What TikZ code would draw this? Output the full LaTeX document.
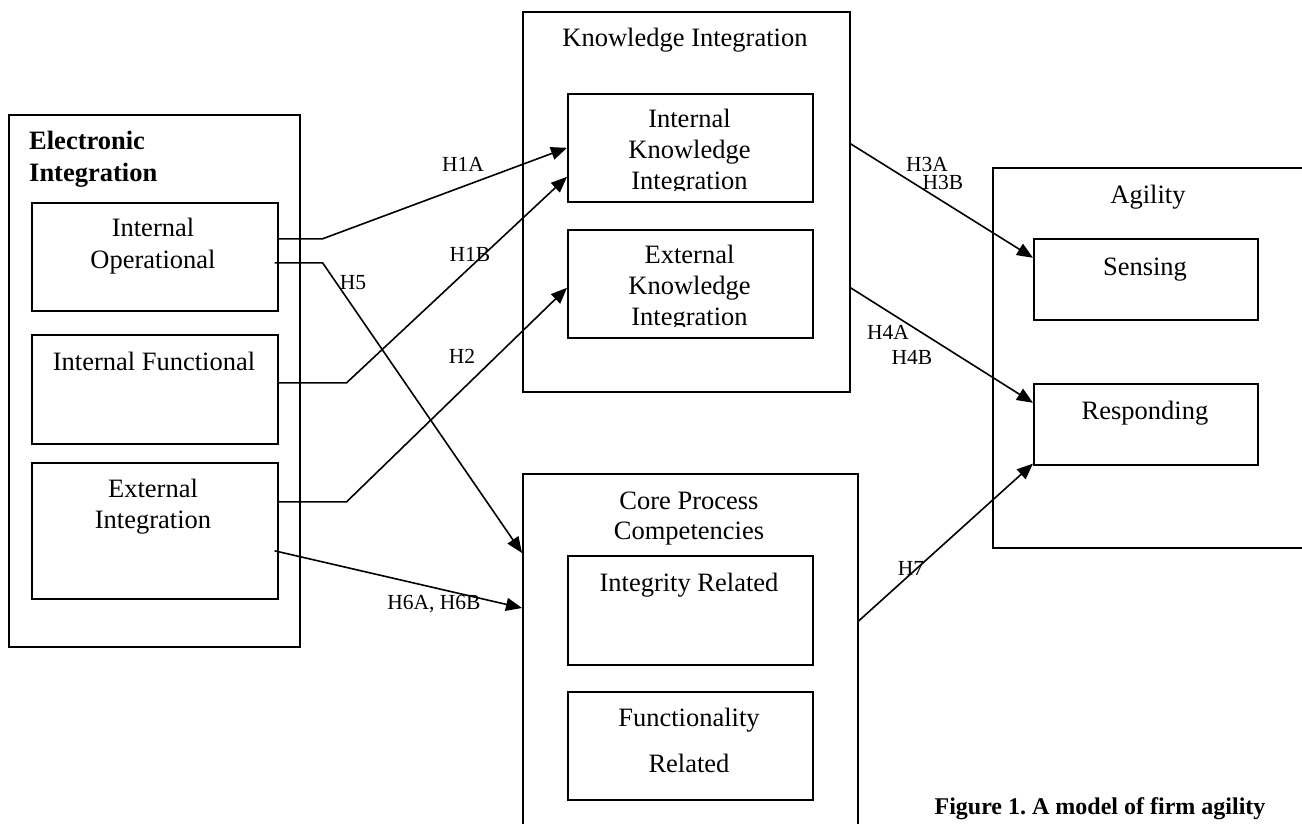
\documentclass[tikz,border=0pt]{standalone}
\usepackage{fontspec}
\setmainfont{Liberation Serif}
\usetikzlibrary{arrows.meta}
\frenchspacing
\begin{document}
\begin{tikzpicture}[x=1pt,y=-1pt,
  box/.style={draw,line width=1.6pt,inner sep=0pt,anchor=north west},
  txt/.style={font=\fontsize{26.5}{32}\selectfont,align=center,anchor=base,inner sep=0pt},
  hlab/.style={font=\fontsize{21.5}{24}\selectfont,inner sep=0pt},
  link/.style={line width=1.6pt,-{Triangle[length=16pt,width=13pt]}},
]
\clip (0,0) rectangle (1302,823);
\fill[white] (0,0) rectangle (1302,823);
% boxes
\node[box,minimum width=291pt,minimum height=532pt] (eio) at (8,114) {};
\node[box,minimum width=246pt,minimum height=108pt] (io) at (31,202) {};
\node[box,minimum width=246pt,minimum height=109pt] (ifn) at (31,334) {};
\node[box,minimum width=246pt,minimum height=136pt] (ext) at (31,462) {};
\node[box,minimum width=327pt,minimum height=380pt] (ki) at (522,11) {};
\node[box,minimum width=245pt,minimum height=108pt] (iki) at (567,93) {};
\node[box,minimum width=245pt,minimum height=108pt] (eki) at (567,229) {};
\node[box,minimum width=335pt,minimum height=400pt] (core) at (522,473) {};
\node[box,minimum width=245pt,minimum height=109pt] (integ) at (567,555) {};
\node[box,minimum width=245pt,minimum height=108pt] (func) at (567,691) {};
\node[box,minimum width=340pt,minimum height=380pt] (agil) at (992,167) {};
\node[box,minimum width=224pt,minimum height=81pt] (sens) at (1033,238) {};
\node[box,minimum width=224pt,minimum height=81pt] (resp) at (1033,383) {};
% texts (multi-line nodes: base = last line)
\node[txt,anchor=base west,align=left,font=\fontsize{26.5}{32}\selectfont\bfseries] (eit) at (29,181) {Electronic\\Integration};
\node[txt] (iot) at (153,268) {Internal\\Operational};
\node[txt] (ifnt) at (154,370) {Internal Functional};
\node[txt,font=\fontsize{26.5}{31}\selectfont] (extt) at (153,528) {External\\Integration};
\node[txt] (kit) at (685,46) {Knowledge Integration};
\begin{scope}
\clip (567,93) rectangle (812,190);
\node[txt,font=\fontsize{26.5}{31}\selectfont] (ikit) at (689.5,189) {Internal\\Knowledge\\Integration};
\end{scope}
\begin{scope}
\clip (567,229) rectangle (812,326);
\node[txt,font=\fontsize{26.5}{31}\selectfont] (ekit) at (689.5,325) {External\\Knowledge\\Integration};
\end{scope}
\node[txt] (agt) at (1148,203) {Agility};
\node[txt] (senst) at (1145,275) {Sensing};
\node[txt] (respt) at (1145,419) {Responding};
\node[txt,font=\fontsize{26.5}{30}\selectfont] (coret) at (689,539) {Core Process\\Competencies};
\node[txt] (integt) at (689,591) {Integrity Related};
\node[txt,font=\fontsize{26.5}{46}\selectfont] (funct) at (689,772) {Functionality\\Related};
\node[font=\fontsize{24}{28}\selectfont\bfseries,inner sep=0pt] (cap) at (1100,809) {Figure 1. A model of firm agility};
% connectors
\draw[link] ([yshift=18pt]io.east) -- ++(44,0) -- (iki.west);
\draw[link] ([xshift=-4pt,yshift=-6pt]io.east) -- ++(48,0) -- ([yshift=-80pt]core.north west);
\draw[link] ([yshift=6.5pt]ifn.east) -- ++(68,0) -- ([yshift=-29pt]iki.west);
\draw[link] ([yshift=29pt]ext.east) -- ++(68,0) -- ([yshift=-4pt]eki.west);
\draw[link] ([xshift=-4pt,yshift=-20pt]ext.east) -- ([yshift=-135pt]core.north west);
\draw[link] ([yshift=58pt]ki.east) -- ([yshift=21.5pt]sens.west);
\draw[link] ([yshift=-86pt]ki.east) -- ([yshift=21.5pt]resp.west);
\draw[link] ([yshift=-148pt]core.north east) -- ([yshift=2pt]resp.south west);
% labels
\node[hlab] (l1a) at (463,164) {H1A};
\node[hlab] (l1b) at (470,254) {H1B};
\node[hlab] (l5) at (353,283) {H5};
\node[hlab] (l2) at (462,356) {H2};
\node[hlab] (l3a) at (927,164) {H3A};
\node[hlab] (l3b) at (943,182) {H3B};
\node[hlab] (l4a) at (888,332) {H4A};
\node[hlab] (l4b) at (912,357) {H4B};
\node[hlab] (l6) at (434,604) {H6A, H6B};
\node[hlab] (l7) at (911,568) {H7};
\end{tikzpicture}
\end{document}
